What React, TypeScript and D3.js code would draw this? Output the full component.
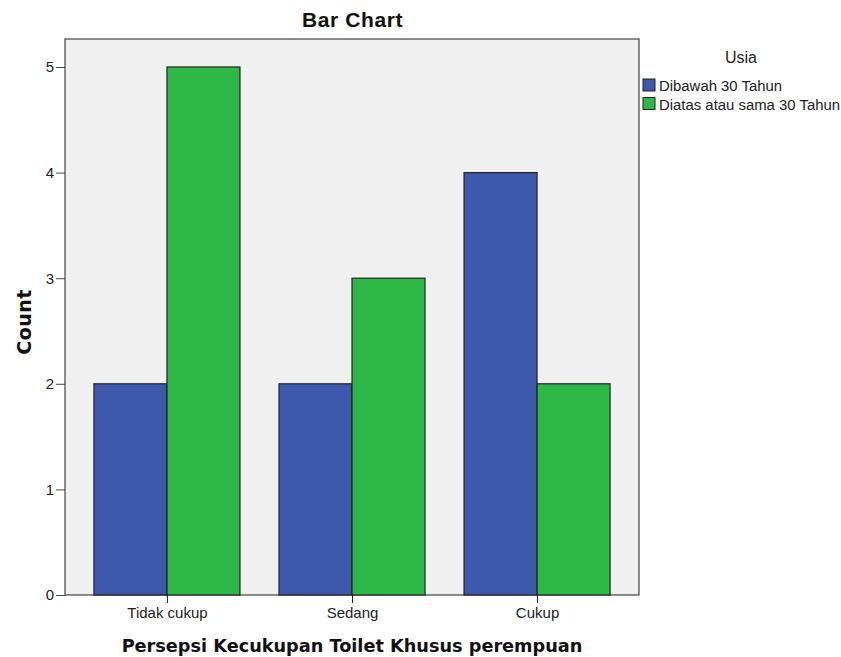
import { useEffect, useRef } from 'react';
import * as d3 from 'd3';

const categories = ['Tidak cukup', 'Sedang', 'Cukup'];
const seriesNames = ['Dibawah 30 Tahun', 'Diatas atau sama 30 Tahun'];
const seriesColors = ['#3E58AC', '#2EB848'];
// counts per category, one array per series
const under30 = [2, 2, 4];
const over30 = [5, 3, 2];
const yTicks = [0, 1, 2, 3, 4, 5];

const App = () => {
  const svgRef = useRef<SVGSVGElement>(null);

  useEffect(() => {
    if (!svgRef.current) return;
    const root = d3.select(svgRef.current);
    root.selectAll('*').remove();

    const plot = { left: 65, right: 639, top: 39, bottom: 595 };
    const values = [under30, over30];

    const x = d3
      .scalePoint<string>()
      .domain(categories)
      .range([plot.left, plot.right])
      .padding(0.551);
    const y = d3.scaleLinear().domain([0, 5.265]).range([plot.bottom, plot.top]);
    const barW = 73;

    // plot background
    root
      .append('rect')
      .attr('x', plot.left)
      .attr('y', plot.top)
      .attr('width', plot.right - plot.left)
      .attr('height', plot.bottom - plot.top)
      .attr('fill', '#F0F0F0')
      .attr('stroke', '#444')
      .attr('stroke-width', 1.2);

    // bars
    values.forEach((vals, si) => {
      root
        .append('g')
        .selectAll('rect')
        .data(vals)
        .enter()
        .append('rect')
        .attr('x', (_, i) => x(categories[i])! + (si - 1) * barW)
        .attr('y', (d) => y(d))
        .attr('width', barW)
        .attr('height', (d) => y(0) - y(d))
        .attr('fill', seriesColors[si])
        .attr('stroke', '#222')
        .attr('stroke-width', 1.2);
    });

    // y axis
    const yAxis = root
      .append('g')
      .attr('transform', `translate(${plot.left},0)`)
      .call(d3.axisLeft(y).tickValues(yTicks).tickSize(9).tickPadding(2).tickFormat(d3.format('d')));
    yAxis.select('.domain').remove();
    yAxis
      .selectAll('.tick text')
      .attr('font-family', 'Liberation Sans, Arial')
      .attr('font-size', 15)
      .attr('fill', '#222');
    yAxis.selectAll('.tick line').attr('stroke', '#444');

    // x axis
    const xAxis = root
      .append('g')
      .attr('transform', `translate(0,${plot.bottom})`)
      .call(d3.axisBottom(x).tickSize(8).tickPadding(4));
    xAxis.select('.domain').remove();
    xAxis
      .selectAll('.tick text')
      .attr('font-family', 'Liberation Sans, Arial')
      .attr('font-size', 15)
      .attr('fill', '#222');
    xAxis.selectAll('.tick line').attr('stroke', '#222');

    const cx = (plot.left + plot.right) / 2;

    // title
    root
      .append('text')
      .attr('x', cx + 0.5)
      .attr('y', 27)
      .attr('text-anchor', 'middle')
      .attr('font-family', 'Liberation Sans, Arial')
      .attr('font-weight', 'bold')
      .attr('font-size', 21)
      .attr('letter-spacing', 0.6)
      .attr('fill', '#111')
      .text('Bar Chart');

    // axis titles
    root
      .append('text')
      .attr('x', cx)
      .attr('y', 652)
      .attr('text-anchor', 'middle')
      .attr('font-family', 'DejaVu Sans, Verdana')
      .attr('font-weight', 'bold')
      .attr('font-size', 17.7)
      .attr('fill', '#111')
      .text('Persepsi Kecukupan Toilet Khusus perempuan');

    root
      .append('text')
      .attr('transform', `translate(31,${(plot.top + plot.bottom) / 2 + 5}) rotate(-90)`)
      .attr('text-anchor', 'middle')
      .attr('font-family', 'DejaVu Sans, Verdana')
      .attr('font-weight', 'bold')
      .attr('font-size', 19)
      .attr('letter-spacing', 0.5)
      .attr('fill', '#111')
      .text('Count');

    // legend
    root
      .append('text')
      .attr('x', 741)
      .attr('y', 63)
      .attr('text-anchor', 'middle')
      .attr('font-family', 'Liberation Sans, Arial')
      .attr('font-size', 16)
      .attr('fill', '#222')
      .text('Usia');

    const legend = root
      .selectAll('.legend')
      .data(seriesNames)
      .enter()
      .append('g')
      .attr('class', 'legend')
      .attr('transform', (_, i) => `translate(643,${79 + i * 18.5})`);
    legend
      .append('rect')
      .attr('width', 12)
      .attr('height', 12)
      .attr('fill', (_, i) => seriesColors[i])
      .attr('stroke', '#222')
      .attr('stroke-width', 1);
    legend
      .append('text')
      .attr('x', 16)
      .attr('y', 12)
      .attr('font-family', 'Liberation Sans, Arial')
      .attr('font-size', 14.9)
      .attr('fill', '#222')
      .text((d) => d);
  }, []);

  return (
    <svg
      ref={svgRef}
      width={841}
      height={657}
      style={{ position: 'absolute', left: 0, top: 0, background: '#fff' }}
    ></svg>
  );
};

export default App;
